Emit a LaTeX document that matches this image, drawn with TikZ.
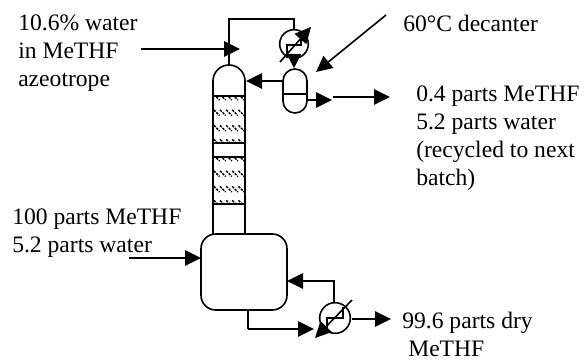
\documentclass[tikz,border=0pt]{standalone}
\usepackage{fontspec}
\setmainfont{Liberation Serif}
\usetikzlibrary{arrows.meta}
\tikzset{
    pipe/.style={line width=1.2pt},
    flow/.style={line width=1.2pt, -{Triangle[length=12pt, width=11.5pt]}},
    vessel/.style={draw, line width=1.2pt, inner sep=0pt, fill=white},
    exchanger/.style={draw, circle, line width=1.2pt, inner sep=0pt, minimum size=21.5pt},
    packing/.style={draw, line width=1.2pt, inner sep=0pt, minimum width=24pt, minimum height=35.25pt},
    label/.style={inner sep=0pt, anchor=north west, align=left, font=\fontsize{17.7}{21}\selectfont}
}
\begin{document}
\begin{tikzpicture}[x=0.75pt, y=-0.75pt]
\useasboundingbox (0,0) rectangle (585,360);

% Column shell
\coordinate (coltop) at (229,65);
\draw[pipe, rounded corners=12pt] (213,234) -- (213,65) -- (245,65) -- (245,234);

% Packed sections
\node[packing] (packa) at (229,119.5) {};
\node[packing] (packb) at (229,180.5) {};
\foreach \p in {packa,packb} {
    \begin{scope}
    \clip (\p.south west) rectangle (\p.north east);
    \foreach \r in {2,17.5,33,47} {
        \foreach \i in {0,...,4} {
            \draw[line width=1.1pt, dash pattern=on 1.8pt off 0.8pt]
                ([xshift=\i*4.6pt+1.3pt, yshift=-\r*0.75pt+2.1pt]\p.north west)
                -- ++(4.2pt,-4.2pt);
        }
    }
    \end{scope}
}

% Condenser and decanter
\node[exchanger] (cond) at (294,44) {};
\node[vessel, rounded corners=9pt, minimum width=18pt, minimum height=33pt] (dec) at (295,91) {};
\coordinate (drumleft) at (282,94);
\coordinate (drumright) at (307,94);
\draw[pipe] (drumleft) -- (drumright);

% Reboiler and still pot
\node[vessel, rounded corners=11pt, minimum width=64.5pt, minimum height=57pt] (pot) at (244,272) {};
\node[exchanger, minimum size=23pt] (reb) at (335,318) {};

% Overhead loop
\coordinate (loopcorner) at (229,19);
\draw[pipe] (coltop) -- (loopcorner) -| (cond.north);
\coordinate (condlow) at (280,62);
\coordinate (condtip) at (311,27);
\draw[flow] (condlow) -- (condtip);
\coordinate (conda) at (287,45);
\coordinate (condb) at (301,45);
\draw[pipe] (287,58) -- (conda) -- (condb) -- (301,33);
\draw[flow, -{Triangle[length=10.5pt, width=10.5pt]}] (cond.south) -- (dec.north -| cond.south);

% Reflux and decanter outlet
\coordinate (refin) at (283,81);
\coordinate (refout) at (246,81);
\draw[flow] (refin) -- (refout);
\coordinate (decout) at (307,100);
\coordinate (decend) at (332,100);
\draw[flow] (decout) -- (decend);

% Pot outlet and boil-up
\coordinate (potout) at (248,310);
\coordinate (rebin) at (314,329);
\draw[pipe] (potout) |- (248,329);
\draw[flow] (248,329) -- (rebin);
\coordinate (rebtop) at (334,302);
\coordinate (boilup) at (287,281);
\draw[flow] (rebtop) |- (boilup);
\coordinate (reblow) at (352,300);
\coordinate (rebtip) at (315,338);
\draw[flow] (reblow) -- (rebtip);
\coordinate (reba) at (327,332);
\coordinate (rebb) at (327,318);
\draw[pipe] (reba) -- (rebb) -- (343,318) -- (343,307);

% Streams with labels
\node[label] (azeo) at (18,15) {10.6\% water\\in MeTHF\\azeotrope};
\coordinate (azeostart) at (141,49);
\coordinate (azeotip) at (240,49);
\draw[flow] (azeostart) -- (azeotip);

\node[label] (decname) at (403,15) {60°C decanter};
\coordinate (decstart) at (386,15);
\coordinate (dectip) at (316,72);
\draw[flow] (decstart) -- (dectip);

\node[label] (recycle) at (416,86) {0.4 parts MeTHF\\5.2 parts water\\(recycled to next\\batch)};
\coordinate (recstart) at (333,97);
\coordinate (rectip) at (390,97);
\draw[flow] (recstart) -- (rectip);

\node[label] (feed) at (12,209) {100 parts MeTHF\\5.2 parts water};
\coordinate (feedstart) at (129,258);
\coordinate (feedtip) at (201,258);
\draw[flow] (feedstart) -- (feedtip);

\node[label] (dry) at (402,312) {99.6 parts dry\\\hspace*{4.5pt}MeTHF};
\coordinate (drystart) at (352,319);
\coordinate (drytip) at (391,319);
\draw[flow] (drystart) -- (drytip);
\end{tikzpicture}
\end{document}
